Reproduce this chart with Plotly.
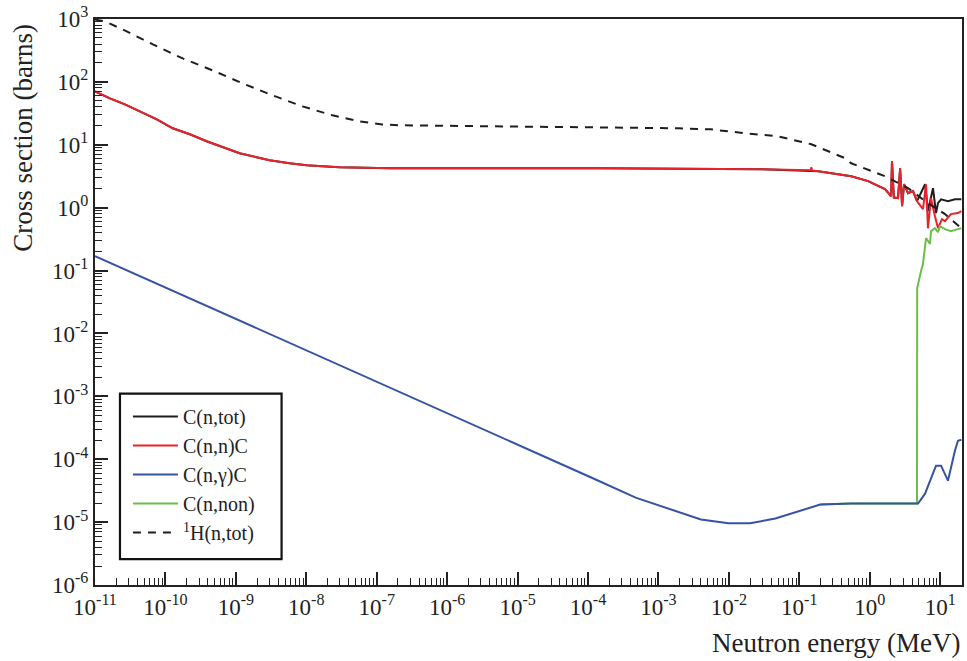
import numpy as np
import plotly.graph_objects as go

# ---- data (energies in MeV, cross sections in barns) ----
h_tot_E = [1.0e-11, 1.39e-11, 2.49e-11, 6.64e-11, 1.76e-10, 4.69e-10, 1.25e-9, 3.32e-9,
           8.83e-9, 2.35e-8, 5.68e-8, 1.20e-7, 2.17e-7, 5.46e-6, 1.42e-4, 1.93e-3,
           5.56e-3, 1.72e-2, 5.04e-2, 0.148, 0.449, 0.546, 1.65, 3.50, 6.71, 11.7, 20.0]
h_tot_xs = [980, 912, 681, 394, 236, 152, 94.6, 61.1,
            40.8, 29.4, 23.6, 21.1, 20.4, 19.7, 19.0, 18.3,
            17.6, 15.2, 13.6, 10.2, 6.1, 5.08, 3.16, 2.04, 1.18, 0.79, 0.47]

c_el_E = [1.0e-11, 1.63e-11, 2.66e-11, 4.34e-11, 7.55e-11, 1.27e-10, 2.22e-10, 3.85e-10,
          6.50e-10, 1.13e-9, 1.97e-9, 3.01e-9, 5.78e-9, 1.01e-8, 1.69e-8,
          2.95e-8, 1.57e-7, 5.46e-6, 1.42e-4, 2.86e-2, 9.68e-2, 0.145, 0.148, 0.152,
          0.186, 0.546, 0.948, 1.65, 2.01, 2.07, 2.20, 2.52, 2.70, 2.88, 3.07, 3.50,
          4.12, 4.69, 5.70, 6.30, 6.71, 7.41, 8.43, 9.31, 10.6, 11.7, 14.2, 17.9, 20.0]
c_el_xs = [70.6, 54.7, 44.0, 34.0, 25.4, 18.3, 14.7, 11.4,
           9.12, 7.33, 6.34, 5.68, 5.08, 4.73, 4.56,
           4.40, 4.24, 4.24, 4.24, 4.08, 3.94, 3.94, 4.4, 3.9,
           3.79, 3.16, 2.64, 1.97, 1.52, 5.47, 1.45, 1.42, 4.24, 1.06, 2.36, 1.70,
           1.83, 1.27, 0.946, 2.36, 0.47, 1.42, 0.733, 0.473, 0.656, 0.61, 0.79, 0.82, 0.88]

c_tot_E = [1.0e-11, 1.63e-11, 2.66e-11, 4.34e-11, 7.55e-11, 1.27e-10, 2.22e-10, 3.85e-10,
           6.50e-10, 1.13e-9, 1.97e-9, 3.01e-9, 5.78e-9, 1.01e-8, 1.69e-8,
           2.95e-8, 1.57e-7, 5.46e-6, 1.42e-4, 2.86e-2, 9.68e-2, 0.186, 0.546, 0.948,
           1.65, 2.01, 2.07, 2.20, 2.52, 2.70, 2.88, 3.07, 3.50, 4.12, 4.69,
           6.10, 6.71, 7.91, 8.73, 9.31, 10.3, 12.9, 16.2, 20.0]
c_tot_xs = [70.6, 54.7, 44.0, 34.0, 25.4, 18.3, 14.7, 11.4,
            9.12, 7.33, 6.34, 5.68, 5.08, 4.73, 4.56,
            4.40, 4.24, 4.24, 4.24, 4.08, 3.94, 3.79, 3.16, 2.64,
            1.97, 1.52, 5.47, 1.45, 1.42, 4.24, 1.06, 2.36, 1.70, 1.83, 1.27,
            2.36, 0.88, 2.04, 0.82, 1.18, 1.36, 1.27, 1.36, 1.36]

c_cap_E = [1.0e-11, 3.85e-5, 1.13e-4, 4.75e-4, 1.39e-3, 4.01e-3, 9.86e-3, 2.0e-2,
           4.57e-2, 0.198, 0.546, 4.69, 4.85, 6.10, 7.41, 8.73, 10.3, 12.9,
           16.2, 17.9, 20.0]
c_cap_xs = [0.17, 8.9e-5, 5.08e-5, 2.45e-5, 1.64e-5, 1.10e-5, 9.57e-6, 9.57e-6,
            1.14e-5, 1.90e-5, 1.97e-5, 1.97e-5, 1.97e-5, 2.83e-5, 5.08e-5, 7.89e-5,
            7.89e-5, 4.56e-5, 1.36e-4, 1.97e-4, 2.04e-4]

c_non_E = [0.198, 0.546, 4.69, 4.72, 5.35, 5.70, 6.30, 7.18, 7.41, 8.43, 9.31,
           9.93, 11.7, 14.2, 17.9, 20.0]
c_non_xs = [1.90e-5, 1.97e-5, 1.97e-5, 0.0527, 0.098, 0.127, 0.328, 0.264, 0.424,
            0.473, 0.408, 0.508, 0.456, 0.424, 0.456, 0.473]

x_decades = list(range(-11, 2))
y_decades = list(range(-6, 4))

SERIF = "Liberation Serif"
INK = "#222222"

fig = go.Figure()

def add_curve(E, xs, name, color, rank, dash="solid"):
    fig.add_trace(go.Scatter(
        x=E, y=xs, mode="lines", name=name, legendrank=rank,
        line=dict(color=color, width=2, dash=dash),
        hoverinfo="skip",
    ))

add_curve(c_tot_E, c_tot_xs, "C(n,tot)", "#1e1e1e", 1)
add_curve(c_el_E, c_el_xs, "C(n,n)C", "#e8232b", 2)
add_curve(c_non_E, c_non_xs, "C(n,non)", "#6cbd49", 4)
add_curve(c_cap_E, c_cap_xs, "C(n,\u03b3)C", "#3553a3", 3)
add_curve(h_tot_E, h_tot_xs, "<sup>1</sup>H(n,tot)", "#1e1e1e", 5, dash="8px,7px")

def minor_vals(decades):
    return [m * 10.0 ** d for d in decades for m in range(2, 10)]

axis_common = dict(
    type="log",
    showgrid=False,
    zeroline=False,
    showline=True,
    linecolor=INK,
    linewidth=2,
    mirror=True,
    ticks="inside",
    ticklen=13,
    tickwidth=1.5,
    tickcolor=INK,
    tickfont=dict(family=SERIF, size=23, color=INK),
)

fig.update_xaxes(
    **axis_common,
    range=[-11.0, 1.31],
    tickmode="array",
    tickvals=[10.0 ** d for d in x_decades],
    ticktext=[f"10<sup>{d}</sup>" for d in x_decades],
    minor=dict(ticks="inside", ticklen=7, tickwidth=1.2, tickcolor=INK,
               tickmode="array", tickvals=minor_vals(x_decades),
               showgrid=False),
)
fig.update_yaxes(
    **axis_common,
    range=[-6, 3],
    tickmode="array",
    tickvals=[10.0 ** d for d in y_decades],
    ticktext=[f"10<sup>{d}</sup>" for d in y_decades],
    minor=dict(ticks="inside", ticklen=7, tickwidth=1.2, tickcolor=INK,
               tickmode="array", tickvals=minor_vals(y_decades[:-1]),
               showgrid=False),
)

fig.add_annotation(
    text="Neutron energy (MeV)", xref="paper", yref="paper",
    x=1.0, y=-0.102, xanchor="right", yanchor="middle", showarrow=False,
    font=dict(family=SERIF, size=27, color=INK),
)
fig.add_annotation(
    text="Cross section (barns)", xref="paper", yref="paper",
    x=-0.083, y=0.995, xanchor="center", yanchor="top", textangle=-90,
    showarrow=False, font=dict(family=SERIF, size=27, color=INK),
)

# legend frame
fig.add_shape(
    type="rect", xref="paper", yref="paper",
    x0=0.0288, x1=0.2152, y0=0.0458, y1=0.338,
    fillcolor="white", line=dict(color="#111111", width=2.2), layer="above",
)

fig.update_layout(
    width=967, height=661,
    margin=dict(l=95, r=3, t=17, b=76),
    paper_bgcolor="white", plot_bgcolor="white",
    showlegend=True,
    legend=dict(
        x=0.038, y=0.332, xanchor="left", yanchor="top",
        bgcolor="rgba(0,0,0,0)", borderwidth=0,
        font=dict(family=SERIF, size=20, color=INK),
        itemwidth=45,
    ),
)

fig.write_html("out.html")
